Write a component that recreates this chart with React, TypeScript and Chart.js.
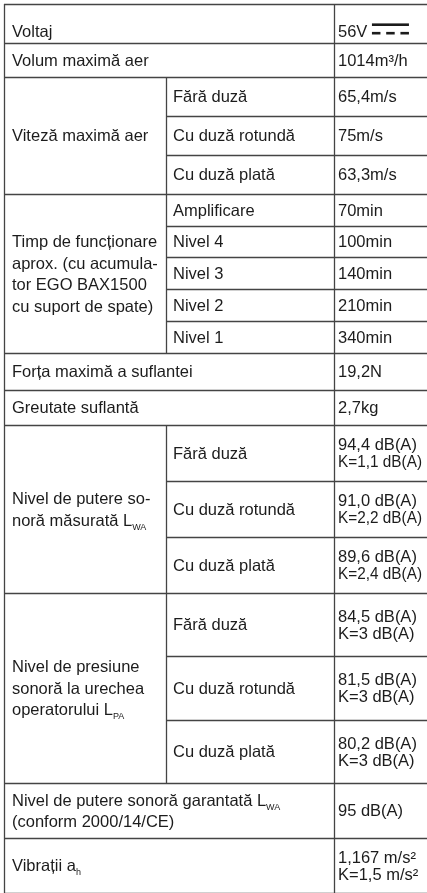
import React, { useEffect, useRef } from 'react';
import { Chart, registerables } from 'chart.js';

Chart.register(...registerables);

// ---------- DATA ----------
const parameters: string[] = [
  'Voltaj',
  'Volum maximă aer',
  'Viteză maximă aer',
  'Timp de funcționare\naprox. (cu acumula-\ntor EGO BAX1500\ncu suport de spate)',
  'Forța maximă a suflantei',
  'Greutate suflantă',
  'Nivel de putere so-\nnoră măsurată L_WA',
  'Nivel de presiune\nsonoră la urechea\noperatorului L_PA',
  'Nivel de putere sonoră garantată L_WA\n(conform 2000/14/CE)',
  'Vibrații a_h',
];

const nozzleVariants: string[] = ['Fără duză', 'Cu duză rotundă', 'Cu duză plată'];
const levelVariants: string[] = ['Amplificare', 'Nivel 4', 'Nivel 3', 'Nivel 2', 'Nivel 1'];

const variants: string[][] = [
  [], [], nozzleVariants, levelVariants, [], [], nozzleVariants, nozzleVariants, [], [],
];

const values: string[][] = [
  ['56V ⎓'],
  ['1014m³/h'],
  ['65,4m/s', '75m/s', '63,3m/s'],
  ['70min', '100min', '140min', '210min', '340min'],
  ['19,2N'],
  ['2,7kg'],
  ['94,4 dB(A)\nK=1,1 dB(A)', '91,0 dB(A)\nK=2,2 dB(A)', '89,6 dB(A)\nK=2,4 dB(A)'],
  ['84,5 dB(A)\nK=3 dB(A)', '81,5 dB(A)\nK=3 dB(A)', '80,2 dB(A)\nK=3 dB(A)'],
  ['95 dB(A)'],
  ['1,167 m/s²\nK=1,5 m/s²'],
];

// ---------- LAYOUT (sizes in page units) ----------
const W = 427;
const H = 893;
const TOP = 4;
const COL_EDGES = [4, 166, 334, 428];
const ROW_H: number[][] = [
  [39], [34], [39, 39, 39], [32, 31, 32, 32, 32], [37], [35],
  [56, 56, 56], [63, 64, 63], [55], [55],
];
const ROW_TEXT_SHIFT = [8, 0, 0, 0, 0, 0, 0, 0, 0, 0];
const PAD = [8, 7, 4];
const VALUE_MAX_W = 84;
const FONT = "16.5px 'Liberation Sans', Arial, sans-serif";
const SUB_FONT = "9px 'Liberation Sans', Arial, sans-serif";
const CAP = 11.8;
const LH_LABEL = 21.5;
const LH_VALUE = 17;
const TEXT_COLOR = '#1c1c1c';
const LINE_COLOR = '#444444';

function drawRich(ctx: CanvasRenderingContext2D, text: string, x: number, y: number, maxW?: number) {
  const parts = text.split(/(_[A-Za-z]+)/);
  let cx = x;
  for (const p of parts) {
    if (!p) continue;
    if (p.startsWith('_')) {
      const s = p.slice(1);
      ctx.font = SUB_FONT;
      ctx.fillText(s, cx, y + 4);
      cx += ctx.measureText(s).width;
    } else if (p.includes('⎓')) {
      const t = p.replace('⎓', '').trimEnd();
      ctx.font = FONT;
      ctx.fillText(t, cx, y);
      cx += ctx.measureText(t + ' ').width;
      // direct-current symbol
      ctx.save();
      ctx.fillStyle = TEXT_COLOR;
      ctx.fillRect(cx, y - 14, 37, 2.6);
      const dw = 8.5;
      const gap = (37 - 3 * dw) / 2;
      for (let i = 0; i < 3; i++) ctx.fillRect(cx + i * (dw + gap), y - 5.5, dw, 2.6);
      ctx.restore();
      cx += 37;
    } else {
      ctx.font = FONT;
      const w = ctx.measureText(p).width;
      if (maxW && w > maxW) {
        ctx.fillText(p, cx, y, maxW);
        cx += maxW;
      } else {
        ctx.fillText(p, cx, y);
        cx += w;
      }
    }
  }
}

function drawBlock(
  ctx: CanvasRenderingContext2D, text: string, x: number, top: number, bottom: number,
  lh: number, shift: number, maxW?: number,
) {
  const lines = text.split('\n');
  const center = (top + bottom) / 2 + shift;
  const first = center - ((lines.length - 1) * lh) / 2 + CAP / 2;
  lines.forEach((ln, i) => drawRich(ctx, ln, x, first + i * lh, maxW));
}

const tablePlugin = {
  id: 'specTable',
  beforeDraw(chart: any) {
    const { ctx } = chart;
    ctx.save();
    ctx.fillStyle = '#ffffff';
    ctx.fillRect(0, 0, chart.width, chart.height);
    ctx.restore();
  },
  afterDraw(chart: any) {
    const { ctx } = chart;
    const xs = chart.scales.x;
    const ys = chart.scales.y;
    const px = (v: number) => xs.getPixelForValue(v);
    const py = (v: number) => ys.getPixelForValue(v);
    const [c0, c1, c2, c3] = COL_EDGES;

    ctx.save();
    ctx.strokeStyle = LINE_COLOR;
    ctx.lineWidth = 1.3;
    const hline = (xa: number, xb: number, yv: number) => {
      ctx.beginPath();
      ctx.moveTo(px(xa), Math.round(py(yv)) + 0.5);
      ctx.lineTo(px(xb), Math.round(py(yv)) + 0.5);
      ctx.stroke();
    };
    const vline = (xv: number, ya: number, yb: number) => {
      ctx.beginPath();
      ctx.moveTo(Math.round(px(xv)) + 0.5, py(ya));
      ctx.lineTo(Math.round(px(xv)) + 0.5, py(yb));
      ctx.stroke();
    };

    ctx.fillStyle = TEXT_COLOR;
    ctx.textBaseline = 'alphabetic';
    ctx.textAlign = 'left';

    let yTop = TOP;
    hline(c0, c3, yTop);
    parameters.forEach((label, si) => {
      const hs = ROW_H[si];
      const total = hs.reduce((a, b) => a + b, 0);
      const yBot = yTop + total;
      const subs = variants[si];
      const vals = values[si];
      drawBlock(ctx, label, px(c0 + PAD[0]), py(yTop), py(yBot), LH_LABEL, ROW_TEXT_SHIFT[si]);
      if (subs.length) {
        vline(c1, yTop, yBot);
        let y = yTop;
        subs.forEach((sub, k) => {
          const yb = y + hs[k];
          drawBlock(ctx, sub, px(c1 + PAD[1]), py(y), py(yb), LH_VALUE, 0);
          drawBlock(ctx, vals[k], px(c2 + PAD[2]), py(y), py(yb), LH_VALUE, 0, VALUE_MAX_W);
          if (k < subs.length - 1) hline(c1, c3, yb);
          y = yb;
        });
      } else {
        drawBlock(ctx, vals[0], px(c2 + PAD[2]), py(yTop), py(yBot), LH_VALUE, ROW_TEXT_SHIFT[si], VALUE_MAX_W);
      }
      hline(c0, c3, yBot);
      yTop = yBot;
    });
    vline(c0, TOP, yTop);
    vline(c2, TOP, yTop);
    vline(c3, TOP, yTop);
    ctx.restore();
  },
};

export default function App() {
  const ref = useRef<HTMLCanvasElement | null>(null);
  useEffect(() => {
    if (!ref.current) return;
    const chart = new Chart(ref.current, {
      type: 'scatter',
      data: { datasets: [{ data: [] }] },
      options: {
        responsive: false,
        animation: false,
        devicePixelRatio: 1,
        layout: { padding: 0 },
        plugins: { legend: { display: false }, tooltip: { enabled: false } },
        scales: {
          x: { type: 'linear', display: false, min: 0, max: W },
          y: { type: 'linear', display: false, min: 0, max: H, reverse: true },
        },
      },
      plugins: [tablePlugin],
    } as any);
    return () => chart.destroy();
  }, []);
  return (
    <div style={{ position: 'fixed', left: 0, top: 0, width: W, height: H, background: '#fff' }}>
      <canvas ref={ref} width={W} height={H} style={{ width: W, height: H, display: 'block' }} />
    </div>
  );
}
